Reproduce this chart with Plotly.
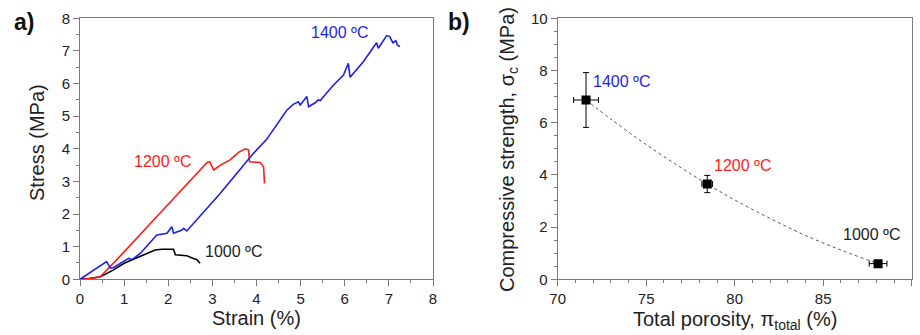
import plotly.graph_objects as go

# ---- Panel a: stress-strain curves ----
strain_1000 = [0, 0.2, 0.46, 0.75, 1.0, 1.37, 1.7, 1.85, 2.12, 2.16, 2.3, 2.42, 2.57, 2.65, 2.72]
stress_1000 = [0, 0.02, 0.08, 0.28, 0.49, 0.72, 0.9, 0.92, 0.92, 0.75, 0.74, 0.72, 0.64, 0.6, 0.49]

strain_1200 = [0.05, 0.25, 0.46, 0.69, 1.0, 1.5, 2.0, 2.5, 2.88, 2.94, 3.03, 3.18, 3.4, 3.6, 3.74, 3.82, 3.84, 4.08, 4.16, 4.18]
stress_1200 = [0, 0.02, 0.08, 0.39, 0.84, 1.57, 2.3, 3.03, 3.58, 3.6, 3.35, 3.5, 3.66, 3.9, 4.0, 3.96, 3.6, 3.58, 3.45, 2.94]

strain_1400 = [0, 0.54, 0.6, 0.69, 0.76, 1.1, 1.18, 1.37, 1.74, 1.97, 2.08, 2.12, 2.3, 2.35, 2.42,
               3.18, 3.93, 4.23, 4.69, 4.84, 4.95, 4.99, 5.1, 5.14, 5.18, 5.33, 5.4, 5.44,
               5.74, 5.97, 6.08, 6.12, 6.42, 6.72, 6.76, 6.95, 7.02, 7.09, 7.16, 7.19, 7.25]
stress_1400 = [0, 0.49, 0.54, 0.34, 0.36, 0.64, 0.6, 0.8, 1.36, 1.41, 1.61, 1.41, 1.5, 1.56, 1.48,
               2.64, 3.86, 4.29, 5.19, 5.37, 5.44, 5.34, 5.55, 5.6, 5.29, 5.41, 5.5, 5.47,
               5.95, 6.26, 6.62, 6.19, 6.67, 7.25, 7.08, 7.47, 7.44, 7.25, 7.31, 7.18, 7.13]

# ---- Panel b: compressive strength vs porosity ----
porosity = [71.6, 78.45, 88.1]
porosity_err = [0.7, 0.3, 0.5]
strength = [6.87, 3.65, 0.6]
strength_err = [1.05, 0.33, 0.05]
temps = ["1400 ºC", "1200 ºC", "1000 ºC"]

fit_x = [71.6, 73, 75, 77, 78.45, 80, 82, 84, 86, 88.1]
fit_y = [6.87, 6.14, 5.16, 4.26, 3.65, 3.04, 2.33, 1.68, 1.12, 0.6]

BLUE = "#1f1fe6"
RED = "#ff1a1a"
BLACK = "#000000"
FONT = "Liberation Sans, Arial, sans-serif"
AXCOL = "#7a7a7a"
TXT = "#222222"

fig = go.Figure()

fig.add_trace(go.Scatter(x=strain_1000, y=stress_1000, mode="lines",
                         line=dict(color=BLACK, width=1.6), xaxis="x", yaxis="y"))
fig.add_trace(go.Scatter(x=strain_1200, y=stress_1200, mode="lines",
                         line=dict(color=RED, width=1.6), xaxis="x", yaxis="y"))
fig.add_trace(go.Scatter(x=strain_1400, y=stress_1400, mode="lines",
                         line=dict(color=BLUE, width=1.6), xaxis="x", yaxis="y"))

fig.add_trace(go.Scatter(x=fit_x, y=fit_y, mode="lines", line_shape="spline",
                         line=dict(color="#555555", width=1, dash="dot"),
                         xaxis="x2", yaxis="y2"))
fig.add_trace(go.Scatter(x=porosity, y=strength, mode="markers",
                         marker=dict(symbol="square", size=9, color=BLACK),
                         error_x=dict(type="data", array=porosity_err, color=BLACK, thickness=1, width=3),
                         error_y=dict(type="data", array=strength_err, color=BLACK, thickness=1, width=3),
                         xaxis="x2", yaxis="y2"))

axis_common = dict(showgrid=False, zeroline=False, showline=True, linecolor=AXCOL, linewidth=1,
                   mirror=True, ticks="outside", ticklen=6, tickcolor=AXCOL, tickwidth=1,
                   automargin=False,
                   tickfont=dict(family=FONT, size=15, color=TXT))

ydom = [0.1663, 0.9454]
fig.update_layout(
    width=920, height=335,
    margin=dict(l=0, r=0, t=0, b=0, autoexpand=False),
    paper_bgcolor="white", plot_bgcolor="white",
    showlegend=False,
    font=dict(family=FONT, color=TXT),
    xaxis=dict(domain=[0.0870, 0.4707], range=[0, 8], dtick=1, anchor="y",
               minor=dict(dtick=0.5, ticks="outside", ticklen=3, tickcolor=AXCOL), **axis_common),
    yaxis=dict(domain=ydom, range=[0, 8], dtick=1, anchor="x",
               minor=dict(dtick=0.5, ticks="outside", ticklen=3, tickcolor=AXCOL), **axis_common),
    xaxis2=dict(domain=[0.6062, 0.9910], range=[70, 90], dtick=5, anchor="y2",
                minor=dict(dtick=1, ticks="outside", ticklen=3, tickcolor=AXCOL), **axis_common),
    yaxis2=dict(domain=ydom, range=[0, 10], dtick=2, anchor="x2",
                minor=dict(dtick=0.5, ticks="outside", ticklen=3, tickcolor=AXCOL), **axis_common),
)

ann = []
# curve labels panel a
ann.append(dict(x=5.87, y=7.55, xref="x", yref="y", text="1400 ºC", showarrow=False,
                font=dict(size=16, color=BLUE, family=FONT)))
ann.append(dict(x=1.86, y=3.6, xref="x", yref="y", text="1200 ºC", showarrow=False,
                font=dict(size=16, color=RED, family=FONT)))
ann.append(dict(x=3.47, y=0.84, xref="x", yref="y", text="1000 ºC", showarrow=False,
                font=dict(size=16, color=TXT, family=FONT)))
# point labels panel b
ann.append(dict(x=73.63, y=7.56, xref="x2", yref="y2", text="1400 ºC", showarrow=False,
                font=dict(size=16, color=BLUE, family=FONT)))
ann.append(dict(x=80.45, y=4.35, xref="x2", yref="y2", text="1200 ºC", showarrow=False,
                font=dict(size=16, color=RED, family=FONT)))
ann.append(dict(x=87.74, y=1.72, xref="x2", yref="y2", text="1000 ºC", showarrow=False,
                font=dict(size=16, color=TXT, family=FONT)))
# axis titles (paper coords)
C = dict(xanchor="center", yanchor="middle", showarrow=False, xref="paper", yref="paper")
ann.append(dict(x=256/920, y=1 - 318/335, text="Strain (%)",
                font=dict(size=20, color=TXT, family=FONT), **C))
ann.append(dict(x=37/920, y=1 - 143/335, text="Stress (MPa)",
                textangle=-90, font=dict(size=20, color=TXT, family=FONT), **C))
ann.append(dict(x=735/920, y=1 - 320/335,
                text="Total porosity, π<sub>total</sub> (%)",
                font=dict(size=20, color=TXT, family=FONT), **C))
ann.append(dict(x=508/920, y=1 - 150/335,
                text="Compressive strength, σ<sub>c</sub> (MPa)",
                textangle=-90, font=dict(size=20, color=TXT, family=FONT), **C))
# panel letters
ann.append(dict(x=24/920, y=1 - 22/335, text="<b>a)</b>",
                font=dict(size=23, color="#111111", family=FONT), **C))
ann.append(dict(x=459/920, y=1 - 22/335, text="<b>b)</b>",
                font=dict(size=23, color="#111111", family=FONT), **C))
fig.update_layout(annotations=ann)

fig.write_html("out.html", config={"displayModeBar": False},
               post_script="document.body.style.margin='0';document.body.style.padding='0';")
